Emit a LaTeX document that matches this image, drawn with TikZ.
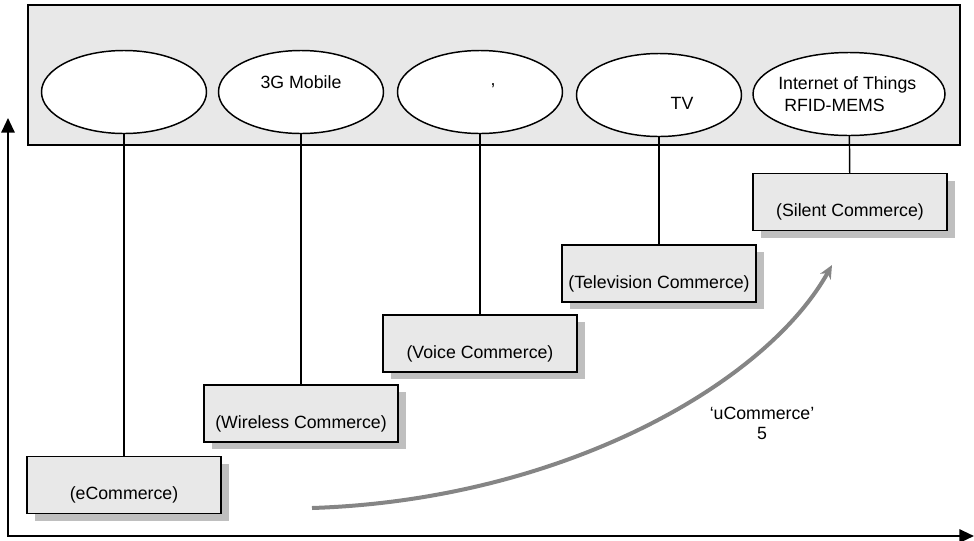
\documentclass[tikz,border=0pt]{standalone}
\usepackage{fontspec}
\setmainfont{Liberation Sans}
\usepackage{tikz}
\usetikzlibrary{arrows.meta,positioning,shapes.geometric,shadows}
\definecolor{panelgray}{HTML}{E8E8E8}
\definecolor{shadegray}{HTML}{BFBFBF}
\definecolor{trendgray}{HTML}{858585}
\tikzset{%
	band/.style     = {draw, line width=1.1pt, fill=panelgray, rectangle, minimum width=699pt, minimum height=105pt, inner sep=0pt}, % Top panel
	tech/.style     = {draw, line width=1.1pt, fill=white, ellipse, minimum width=123.75pt, minimum height=62.25pt, inner sep=0pt}, % Technology
	era/.style      = {draw, line width=1.1pt, fill=panelgray, rectangle, minimum width=145.5pt, minimum height=42.75pt,
	                   text height=22pt, text depth=0pt,
	                   general shadow={shadow xshift=6pt, shadow yshift=-5.25pt, fill=shadegray}}, % Commerce stage
	txt/.style      = {font=\fontsize{13.3}{16.5}\selectfont, inner sep=0pt}, % Text
	link/.style     = {line width=1.1pt}, % Connector
	axis/.style     = {line width=1.5pt, line join=miter, {Triangle[length=11pt,width=10pt]}-{Triangle[length=11pt,width=10pt]}},
	trend/.style    = {line width=3pt, draw=trendgray, -{Stealth[length=10pt,width=9pt,inset=3pt]}},
}

\begin{document}
\begin{tikzpicture}[x=0.75pt,y=-0.75pt,font=\fontsize{13.3}{16.5}\selectfont]
	\useasboundingbox (0,0) rectangle (974,540);
	\node [band] (band) at (494,75) {};
	
	\node [tech] (e1) at (124,92) {};
	\node [tech] (e2) at (301,92) {};
	\node [tech] (e3) at (480,92) {};
	\node [tech] (e4) at (659,95) {};
	\node [tech, minimum width=144pt] (e5) at (849,94) {};
	
	\node [txt] (t2) at (301,82) {3G Mobile};
	\node [txt] (t3) at (493,86) {,};
	\node [txt] (t4) at (682,103) {TV};
	\node [txt, align=left, anchor=west] (t5) at (778,94) {Internet of Things\\\hspace*{4.5pt}RFID-MEMS};
	
	\node [era] (b1) at (124,485) {(eCommerce)};
	\node [era] (b2) at (301,413.5) {(Wireless Commerce)};
	\node [era] (b3) at (480,343.5) {(Voice Commerce)};
	\node [era] (b4) at (659,273.5) {(Television Commerce)};
	\node [era] (b5) at (850,202) {(Silent Commerce)};
	
	\draw[link] (e1) -- (b1);
	\draw[link] (e2) -- (b2);
	\draw[link] (e3) -- (b3);
	\draw[link] (e4) -- (b4);
	\draw[link] (e5) -- (b5);
	
	% axes
	\coordinate (origin) at (8,536);
	\coordinate (ytip) at (8,118);
	\coordinate (xtip) at (974,536);
	\draw[axis] (ytip) -- (origin) -- (xtip);
	
	% growth curve
	\coordinate (ustart) at (312,508);
	\coordinate (uend) at (832,265);
	\draw[trend] (ustart) .. controls (560,500) and (765,385) .. (uend);
	\node [txt, align=center, font=\fontsize{13.3}{15}\selectfont] (ulabel) at (762,423) {‘uCommerce’\\5};
\end{tikzpicture}
\end{document}
